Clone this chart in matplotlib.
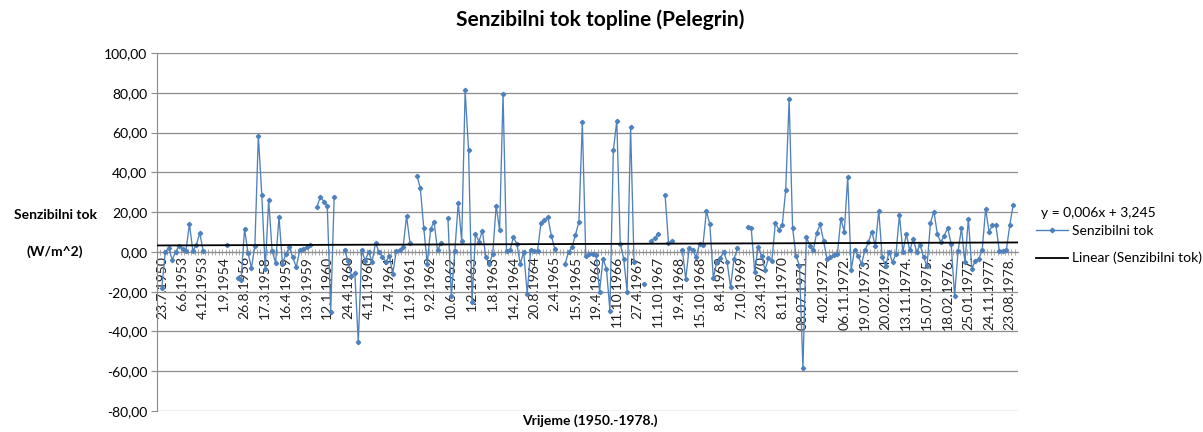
import numpy as np
import matplotlib
matplotlib.use("Agg")
import matplotlib.pyplot as plt
from matplotlib.lines import Line2D
from matplotlib.ticker import FuncFormatter, FixedLocator

plt.rcParams['font.family'] = ['Lato', 'DejaVu Sans']

nan = np.nan
# Sensible heat flux series (W/m^2), one value per category, NaN = missing
senzibilni_tok = [
    -18, 0, 2, -4, 0, 3, 1.5, 0.5, 14, 0.5,
    3.5, 9.5, 0.5, nan, nan, nan, nan, nan, nan, 3.5,
    nan, nan, -13, -14, 11.5, -0.5, -8, 3, 58.5, 28.5,
    -8.5, 26, 0.5, -5.5, 17.5, -6, -1, 2.3, -2.7, -7.7,
    0.7, 1.5, 2.5, 3.5, nan, 22.5, 27.8, 25.3, 23.3, -30,
    27.5, nan, nan, 1, -4.4, -12, -10.7, -45.5, 0.7, -4.4,
    0, -5, 4.5, 0, -2.7, -5, -2, -11, 0.2, 0.7,
    2.3, 18, 4.5, nan, 38.4, 32, 12, -6, 11.6, 15,
    0.7, 4.5, nan, 17, -22, 0.2, 24.7, 5.4, 81.2, 51,
    -25, 9, 5.2, 10.7, -2.7, -6, -1, 23.3, 11, 79.5,
    0.2, 0.7, 7.4, 4, -6, 0, -21, 0.7, 0.5, 0.5,
    14.6, 15.8, 17.5, 8.2, 1.5, nan, nan, -6, 0, 2.3,
    8.6, 15, 65.3, -2, -1, -1, -1.5, -20, -3.5, -8.5,
    -29.5, 51, 66, 4, -3.5, -20, 62.7, -5.2, nan, nan,
    -16, nan, 5.7, 7, 9, nan, 28.7, 4.5, 5.4, nan,
    nan, 1.2, -13.6, 1.8, 1.2, -2.7, 4, 3.5, 20.5, 13.8,
    -13.3, -5.2, -3.2, 0, -5, -17.8, -3.5, 1.8, nan, nan,
    12.4, 12, -10, 2.3, -2, -9, -3.2, -4.4, 14.6, 11.2,
    13.3, 31, 76.7, 12, -2, -7, -58.6, 7.4, 3.2, 0.7,
    9.6, 13.8, 5.4, -3.5, -2.7, -1.5, -1, 16.6, 10.2, 37.6,
    -9, 1.2, -2, -6, 0.7, 4.9, 10.2, 3, 20.8, -2.7,
    -7, 0, -5.2, -1, 18.6, 0, 9, 0.7, 6.5, 0,
    3.5, -2.7, -7.2, 14.6, 20.3, 9, 4.9, 8.2, 12, 4,
    -22, 0.2, 12, -5.2, 16.6, -8.6, -4.4, -3.5, 0.7, 21.6,
    10.2, 13.3, 13.3, 0.2, 0.2, 0.7, 13.3, 23.7,
]

tick_labels = [
    "23.7.1950", "6.6.1953", "4.12.1953", "1.9.1954", "26.8.1956", "17.3.1958",
    "16.4.1959", "13.9.1959", "12.1.1960", "24.4.1960", "4.11.1960", "7.4.1961",
    "11.9.1961", "9.2.1962", "10.6.1962", "1.2.1963", "1.8.1963", "14.2.1964",
    "20.8.1964", "2.4.1965", "15.9.1965", "19.4.1966", "11.10.1966", "27.4.1967",
    "11.10.1967", "19.4.1968", "15.10.1968", "8.4.1969", "7.10.1969", "23.4.1970",
    "8.11.1970", "08.07.1971.", "4.02.1972.", "06.11.1972.", "19.07.1973.",
    "20.02.1974.", "13.11.1974.", "15.07.1975.", "18.02.1976.", "25.01.1977.",
    "24.11.1977.", "23.08.1978.",
]
label_step = 6

# trendline coefficients as printed on the chart
trend_slope = 0.006
trend_intercept = 3.245

title = "Senzibilni tok topline (Pelegrin)"
x_title = "Vrijeme (1950.-1978.)"
y_title_1 = "Senzibilni tok"
y_title_2 = "(W/m^2)"
series_name = "Senzibilni tok"
trend_name = "Linear (Senzibilni tok)"
trend_eq = "y = 0,006x + 3,245"

y = np.array(senzibilni_tok, dtype=float)
x = np.arange(len(y))

W, H = 1203, 432
fig = plt.figure(figsize=(W / 100, H / 100), dpi=100)
left, right, top, bottom = 157, 1018, 53, 411
ax = fig.add_axes([left / W, 1 - bottom / H, (right - left) / W, (bottom - top) / H])

blue = '#4F81BD'
grid_c = '#8C8C8C'

ax.set_ylim(-80, 100)
xlim = (-1.4, len(y) + 0.4)
ax.set_xlim(*xlim)
ax.set_yticks(np.arange(-80, 101, 20))
ax.yaxis.set_major_formatter(FuncFormatter(lambda v, p: f"{v:.2f}".replace('.', ',')))
ax.grid(axis='y', color=grid_c, linewidth=0.9)
ax.set_axisbelow(True)

# series
ax.plot(x, y, color=blue, linewidth=0.95, marker='D', markersize=2.2,
        markerfacecolor=blue, markeredgecolor=blue, zorder=3)

# linear trendline (Excel uses x = 1..N)
tx = np.array(xlim)
ax.plot(tx, trend_slope * (tx + 1) + trend_intercept, color='black', linewidth=1.3, zorder=4)

# spines
for s in ['top', 'right']:
    ax.spines[s].set_visible(False)
ax.spines['left'].set_color(grid_c)
ax.spines['bottom'].set_position(('data', 0))
ax.spines['bottom'].set_color(grid_c)

ax.tick_params(axis='y', direction='out', length=4, color=grid_c, labelsize=10, pad=3)
ax.set_xticks(x[::label_step][:len(tick_labels)])
ax.set_xticklabels(tick_labels, rotation=90, fontsize=10, color='#222222')
ax.tick_params(axis='x', which='major', length=0, pad=3)
ax.xaxis.set_minor_locator(FixedLocator(np.arange(len(y) + 1) - 0.5))
ax.tick_params(axis='x', which='minor', direction='inout', length=5, color='#A0A0A0')

fig.text(600 / W, 1 - 20 / H, title, ha='center', va='center', fontsize=15, fontweight='bold')
fig.text(590 / W, 1 - 421 / H, x_title, ha='center', va='center', fontsize=10, fontweight='bold')
fig.text(55 / W, 1 - 215 / H, y_title_1, ha='center', va='center', fontsize=10, fontweight='bold')
fig.text(55 / W, 1 - 252 / H, y_title_2, ha='center', va='center', fontsize=10, fontweight='bold')

fig.text(1041 / W, 1 - 213 / H, trend_eq, ha='left', va='center', fontsize=10)
handles = [Line2D([0], [0], color=blue, linewidth=1.0, marker='D', markersize=2.3),
           Line2D([0], [0], color='black', linewidth=1.3)]
fig.legend(handles, [series_name, trend_name], loc='upper left',
           bbox_to_anchor=(1030 / W, 1 - 219 / H), frameon=False, fontsize=10,
           handlelength=2.3, handletextpad=0.3, labelspacing=1.1, borderaxespad=0)

fig.savefig('out.png', dpi=100)
